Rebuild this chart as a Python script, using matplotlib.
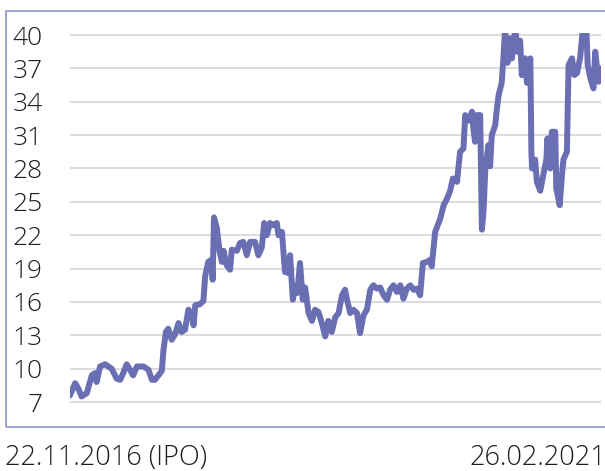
import numpy as np
import pandas as pd
import matplotlib
matplotlib.use('Agg')
import matplotlib.pyplot as plt
from matplotlib.patches import Rectangle

# days since IPO (22.11.2016) and share price
days = [0, 15, 23, 34, 49, 64, 73, 78, 88, 103, 112, 122, 137, 147, 156, 166, 176, 185,
        196, 215, 230, 240, 249, 259, 269, 274, 281, 288, 298, 308, 318, 327, 337, 347,
        357, 362, 367, 381, 391, 396, 405, 415, 418, 422, 430, 438, 445, 450, 459, 469,
        474, 489, 498, 508, 518, 528, 542, 552, 562, 569, 577, 586, 596, 606, 611, 621,
        630, 640, 645, 653, 660, 666, 674, 682, 689, 699, 709, 718, 728, 738, 748, 757,
        767, 777, 787, 797, 806, 811, 821, 831, 841, 850, 860, 870, 880, 889, 899, 909,
        919, 929, 938, 948, 958, 968, 977, 987, 997, 1007, 1017, 1026, 1034, 1046, 1056,
        1060, 1070, 1080, 1085, 1095, 1105, 1114, 1122, 1134, 1143, 1153, 1158, 1168,
        1178, 1182, 1187, 1192, 1202, 1207, 1212, 1217, 1226, 1231, 1236, 1246, 1251,
        1256, 1265, 1270, 1275, 1282, 1290, 1295, 1305, 1311, 1319, 1324, 1334, 1339,
        1349, 1352, 1354, 1363, 1368, 1378, 1388, 1396, 1399, 1407, 1412, 1422, 1425,
        1435, 1442, 1446, 1456, 1461, 1471, 1478, 1486, 1495, 1503, 1513, 1517, 1525,
        1534, 1539, 1549, 1556]
price = [7.6, 8.7, 8.3, 7.5, 7.8, 9.4, 9.6, 8.8, 10.2, 10.4, 10.2, 10.0, 9.1, 9.0, 9.6,
         10.4, 9.9, 9.4, 10.2, 10.2, 9.9, 9.0, 9.0, 9.4, 9.8, 11.7, 13.3, 13.6, 12.6, 13.1,
         14.1, 13.3, 13.5, 15.3, 14.8, 13.9, 15.7, 15.8, 16.1, 18.3, 19.6, 19.8, 18.0, 23.6,
         22.7, 20.6, 19.6, 20.6, 19.3, 18.9, 20.7, 20.6, 21.3, 21.4, 20.2, 21.4, 21.4, 20.2,
         20.9, 23.1, 22.0, 23.1, 22.9, 23.1, 22.0, 22.3, 18.7, 18.6, 20.2, 16.2, 17.4, 16.8,
         19.5, 16.2, 17.3, 15.0, 14.3, 15.3, 15.1, 14.1, 12.9, 14.3, 13.3, 14.6, 15.0, 16.6,
         17.1, 16.3, 15.0, 15.3, 15.0, 13.2, 14.8, 15.3, 17.1, 17.5, 17.2, 17.3, 16.6, 16.2,
         17.1, 17.5, 16.9, 17.5, 16.3, 17.2, 17.5, 17.1, 17.2, 16.6, 19.5, 19.6, 19.8, 19.2,
         22.3, 23.1, 23.5, 24.7, 25.3, 26.0, 27.1, 26.8, 29.5, 29.8, 32.8, 32.3, 33.1, 31.6,
         30.4, 32.8, 32.8, 22.5, 24.3, 27.9, 30.1, 28.2, 31.0, 31.9, 33.4, 34.6, 35.7, 37.9,
         40.6, 37.5, 39.7, 37.9, 40.6, 38.5, 39.5, 36.4, 37.9, 35.7, 37.9, 29.5, 28.0, 28.8,
         26.8, 26.0, 27.6, 28.8, 30.7, 28.0, 31.3, 31.3, 26.2, 24.7, 27.6, 28.8, 29.5, 37.3,
         37.9, 36.4, 36.6, 38.0, 40.6, 40.6, 37.3, 36.1, 35.2, 38.5, 35.8, 37.0]
yticks = [7, 10, 13, 16, 19, 22, 25, 28, 31, 34, 37, 40]
start_label = '22.11.2016 (IPO)'
end_label = '26.02.2021'

dates = pd.Timestamp('2016-11-22') + pd.to_timedelta(days, unit='D')

plt.rcParams['font.family'] = ['Open Sans', 'DejaVu Sans']

fig = plt.figure(figsize=(6.05, 4.71), dpi=100)
ax = fig.add_axes([70 / 605, 1 - 406.5 / 471, 531 / 605, (406.5 - 32.8) / 471])

ax.plot(dates, price, color='#6a6fb3', lw=4.3, solid_joinstyle='round',
        solid_capstyle='round', zorder=3)

ax.set_xlim(dates[0], dates[-1])
ax.set_ylim(6.6, 40.2)
ax.set_yticks(yticks)
ax.set_yticklabels([str(t) for t in yticks])
ax.set_xticks([])
ax.tick_params(axis='y', length=0, pad=19.5, labelsize=19, labelcolor='#1e1e1e')
for lab in ax.get_yticklabels():
    lab.set_fontweight('light')
ax.grid(axis='y', color='#d9d9d9', lw=1.3, zorder=0)
for s in ax.spines.values():
    s.set_visible(False)

fig.text(5 / 605, 1 - 458 / 471, start_label, fontsize=19.5, fontweight='light',
         color='#1e1e1e', ha='left', va='center')
fig.text(606 / 605, 1 - 458 / 471, end_label, fontsize=19.5, fontweight='light',
         color='#1e1e1e', ha='right', va='center')

# thin frame around the chart
fig.patches.append(Rectangle((6 / 605, 1 - 427 / 471), 1.2, (427 - 11) / 471,
                             transform=fig.transFigure, fill=False,
                             edgecolor='#8f93cf', lw=1.2))

fig.savefig('out.png', dpi=100)
